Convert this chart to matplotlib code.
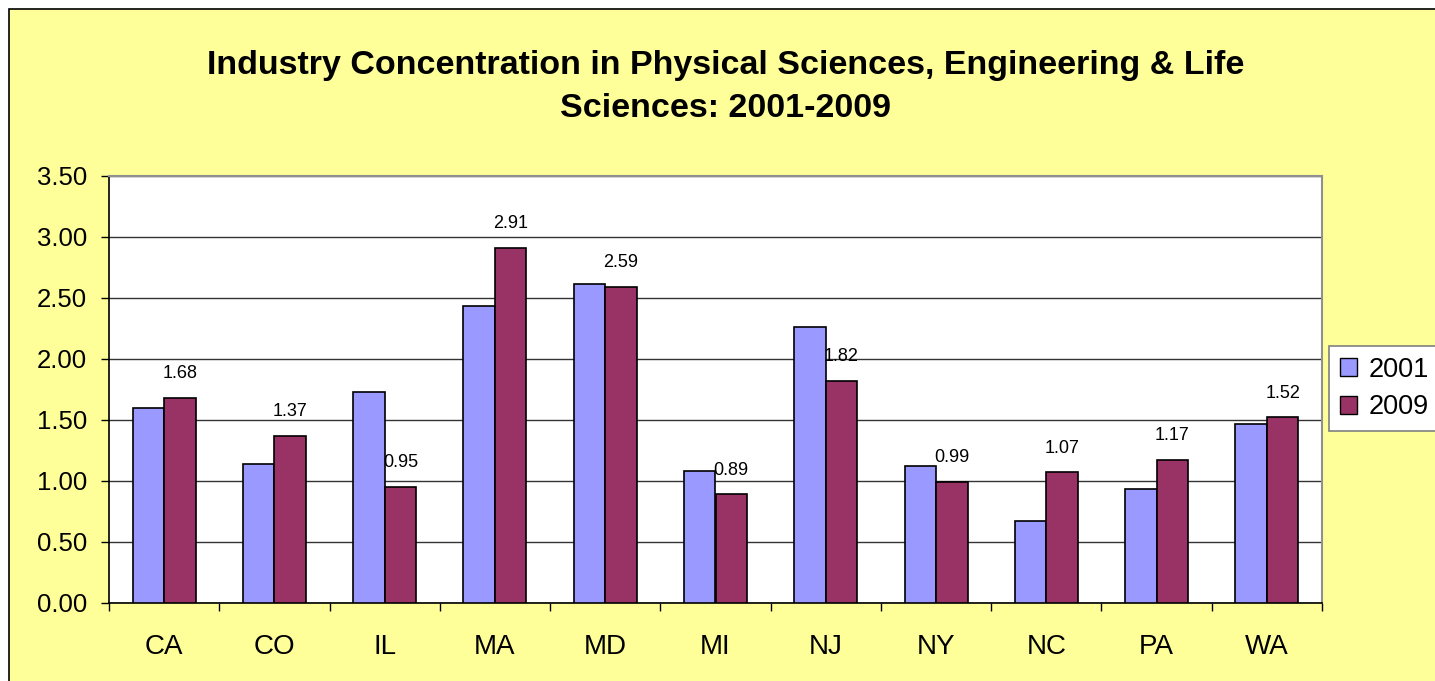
# Recreate the industry concentration bar chart (Excel style).
import numpy as np
import matplotlib
matplotlib.use('Agg')
import matplotlib.pyplot as plt
from matplotlib.patches import Rectangle, Patch

plt.rcParams['font.family'] = ['Liberation Sans', 'DejaVu Sans']

# Data.
states = ['CA', 'CO', 'IL', 'MA', 'MD', 'MI', 'NJ', 'NY', 'NC', 'PA', 'WA']
vals_2001 = [1.60, 1.14, 1.73, 2.43, 2.61, 1.08, 2.26, 1.12, 0.67, 0.93, 1.47]
vals_2009 = [1.68, 1.37, 0.95, 2.91, 2.59, 0.89, 1.82, 0.99, 1.07, 1.17, 1.52]
yticks = [0.0, 0.5, 1.0, 1.5, 2.0, 2.5, 3.0, 3.5]

W, H = 1435, 681
fig = plt.figure(figsize=(W / 100, H / 100), dpi=100)
fig.patch.set_facecolor('white')

# Chart area: yellow with a black border (right/bottom cut off).
fig.patches.append(Rectangle((9 / W, -0.1), 1.2, (H - 9) / H + 0.1,
                             transform=fig.transFigure, facecolor='#FFFF99',
                             edgecolor='black', linewidth=1.2, zorder=-5))

ax = fig.add_axes([109 / W, 78 / H, (1322 - 109) / W, (603 - 175.7) / H])
ax.set_zorder(2)
ax.set_facecolor('white')

x = np.arange(len(states))
bw = 1 / 3.5
ax.bar(x - bw / 2, vals_2001, bw, color='#9999FF', edgecolor='black',
       linewidth=1.2, label='2001', zorder=3)
bars09 = ax.bar(x + bw / 2, vals_2009, bw, color='#993366', edgecolor='black',
                linewidth=1.2, label='2009', zorder=3)

# Data labels above the 2009 bars.
for b, v in zip(bars09, vals_2009):
    ax.annotate('%.2f' % v, (b.get_x() + b.get_width() / 2, v),
                xytext=(0, 17.5), textcoords='offset points',
                ha='center', va='center', fontsize=13, zorder=4)

ax.set_xlim(-0.5, len(states) - 0.5)
ax.set_ylim(0, 3.5)
ax.set_yticks(yticks)
ax.set_yticklabels(['%.2f' % t for t in yticks], fontsize=18.5)
ax.yaxis.grid(True, color='#333333', linewidth=1)
ax.set_axisbelow(True)
ax.tick_params(axis='y', length=6, width=1, pad=10)

ax.set_xticks(x)
ax.set_xticklabels(states, fontsize=20)
ax.set_xticks(np.arange(-0.5, len(states)), minor=True)
ax.tick_params(axis='x', which='major', length=0, pad=22)
ax.tick_params(axis='x', which='minor', length=6, width=1)

for side in ['left', 'bottom']:
    ax.spines[side].set_color('black')
    ax.spines[side].set_linewidth(1.2)
for side in ['top', 'right']:
    ax.spines[side].set_color('#909090')
    ax.spines[side].set_linewidth(1.5)

fig.text(726 / W, (H - 87) / H,
         'Industry Concentration in Physical Sciences, Engineering & Life\nSciences: 2001-2009',
         ha='center', va='center', fontsize=24.5, fontweight='bold',
         linespacing=1.5)

handles = [Patch(facecolor='#9999FF', edgecolor='black', label='2001'),
           Patch(facecolor='#993366', edgecolor='black', label='2009')]
leg = fig.legend(handles=handles, loc='upper left',
                 bbox_to_anchor=(1329 / W, (H - 346) / H), fontsize=19.5,
                 fancybox=False, framealpha=1, edgecolor='#808080',
                 handlelength=0.65, handleheight=0.65, handletextpad=0.4,
                 borderpad=0.4, labelspacing=0.42, borderaxespad=0)
leg.get_frame().set_linewidth(1.2)

plt.savefig('out.png', dpi=100)
plt.close()
